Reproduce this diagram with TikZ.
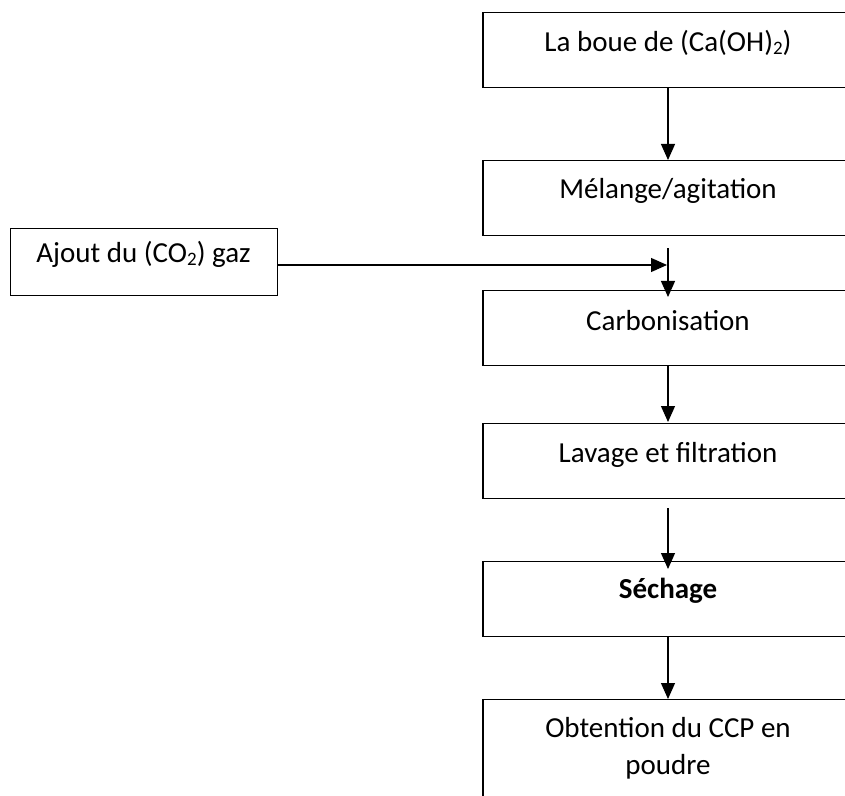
\documentclass[tikz,border=0pt]{standalone}
\usepackage{fontspec}
\setmainfont{Carlito}
\usetikzlibrary{arrows.meta}
\newcommand{\subtwo}{\raisebox{-1.5pt}{\fontsize{9.5pt}{9.5pt}\selectfont 2}}
\tikzset{
  box/.style={draw=black, line width=0.65pt, minimum width=185pt, minimum height=37.5pt, inner sep=0pt, anchor=north},
  gasbox/.style={draw=black, line width=0.65pt, minimum width=133.5pt, minimum height=33.5pt, inner sep=0pt, anchor=north west},
  lbl/.style={anchor=base, inner sep=0pt, font=\fontsize{14.5pt}{18.5pt}\selectfont, align=center},
  arr/.style={line width=0.6pt, -{Triangle[width=7pt,length=8pt]}}
}
\begin{document}
\begin{tikzpicture}[x=0.5pt,y=-0.5pt]
\useasboundingbox (0,0) rectangle (845,796);
\clip (0,0) rectangle (845,796);
% boxes
\node[box] (b1) at (668,12) {};
\node[box] (b2) at (668,160) {};
\node[box] (b3) at (668,290) {};
\node[box] (b4) at (668,423) {};
\node[box] (b5) at (668,561) {};
\node[box, minimum height=60pt] (b6) at (668,699) {};
\node[gasbox] (g) at (10,228) {};
% labels
\node[lbl] (t1) at (668,52) {La boue de (Ca(OH)\subtwo)};
\node[lbl] (t2) at (668,199) {Mélange/agitation};
\node[lbl] (t3) at (668,330) {Carbonisation};
\node[lbl] (t4) at (668,462) {Lavage et filtration};
\node[lbl] (t5) at (668,598) {\textbf{Séchage}};
\node[lbl] (t6) at (668,774) {Obtention du CCP en\\poudre};
\node[lbl] (tg) at (143.5,263) {Ajout du (CO\subtwo) gaz};
% connectors
\draw[arr] (b1.south) -- (b2.north);
\draw[arr, shorten <=6pt, shorten >=-3.5pt] (b2.south) -- (b3.north);
\draw[arr, shorten >=0.5pt] (b3.south) -- (b4.north);
\draw[arr, shorten <=4.5pt, shorten >=-4pt] (b4.south) -- (b5.north);
\draw[arr] (b5.south) -- (b6.north);
\coordinate (m) at (667,265);
\draw[arr] (g.east |- m) -- (m);
\end{tikzpicture}
\end{document}
